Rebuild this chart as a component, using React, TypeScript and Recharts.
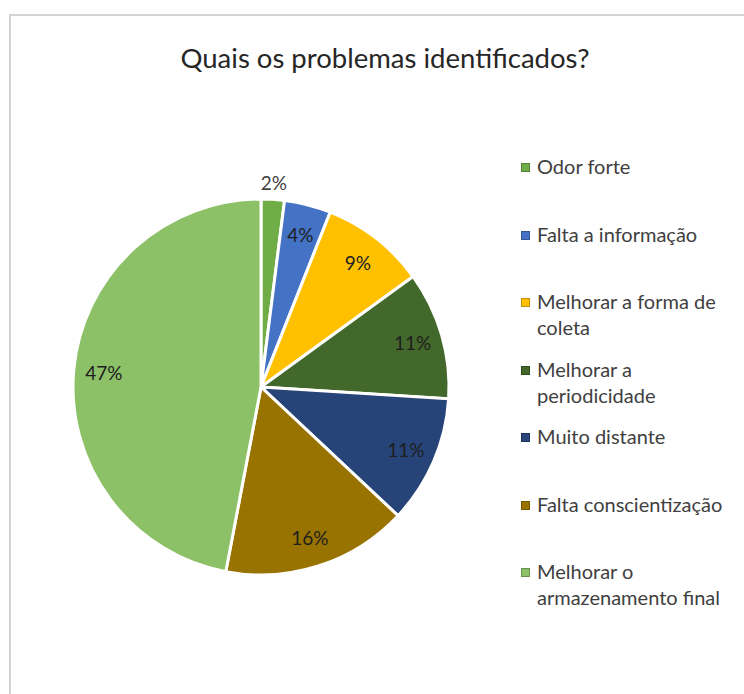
import React from 'react';
import { PieChart, Pie, Cell, Legend } from 'recharts';

const categories = [
  'Odor forte',
  'Falta a informação',
  'Melhorar a forma de coleta',
  'Melhorar a periodicidade',
  'Muito distante',
  'Falta conscientização',
  'Melhorar o armazenamento final',
];
const percents = [2, 4, 9, 11, 11, 16, 47];
const colors = ['#70AD47', '#4472C4', '#FFC000', '#43682B', '#264478', '#997300', '#8CC168'];

const data = categories.map((name, i) => ({ name, value: percents[i] }));

const FONT = 'Lato, "Open Sans", sans-serif';
const RAD = Math.PI / 180;

const renderLabel = (props: any) => {
  const { cx, cy, midAngle, outerRadius, value } = props;
  const r = value < 3 ? outerRadius + 17 : outerRadius * 0.84;
  const x = cx + r * Math.cos(-midAngle * RAD);
  const y = cy + r * Math.sin(-midAngle * RAD);
  return (
    <text x={x} y={y} fill={value < 3 ? '#404040' : '#1e1e1e'} fontSize={19} fontFamily={FONT} textAnchor="middle" dominantBaseline="central">
      {value}%
    </text>
  );
};

const renderLegend = (props: any) => {
  const items = [...(props.payload || [])].sort(
    (a: any, b: any) => categories.indexOf(a.value) - categories.indexOf(b.value)
  );
  return (
    <div style={{ fontFamily: FONT, fontSize: 20, color: '#404040', lineHeight: '26px' }}>
      {items.map((entry: any, i: number) => (
        <div key={i} style={{ display: 'flex', alignItems: 'flex-start', height: 67.5 }}>
          <div style={{ width: 7, height: 7, background: entry.color, border: '1px solid rgba(0,0,0,0.25)', marginTop: 10, marginRight: 7, flexShrink: 0 }} />
          <div style={{ width: 200 }}>{entry.value}</div>
        </div>
      ))}
    </div>
  );
};

export default function App() {
  return (
    <div style={{ position: 'fixed', left: 0, top: 0, width: 744, height: 694, overflow: 'hidden', background: '#fff' }}>
      <div style={{ position: 'absolute', left: 9, top: 14, width: 800, height: 800, borderLeft: '2px solid #d4d4d4', borderTop: '2px solid #d4d4d4' }} />
      <div style={{ position: 'absolute', left: 0, top: 41, width: 770, textAlign: 'center', fontFamily: FONT, fontSize: 27.5, color: '#262626' }}>
        Quais os problemas identificados?
      </div>
      <div style={{ position: 'absolute', left: 0, top: 0 }}>
        <PieChart width={744} height={694} margin={{ top: 0, right: 0, bottom: 0, left: 0 }}>
          <Pie
            data={data}
            dataKey="value"
            nameKey="name"
            cx={261}
            cy={387}
            outerRadius={188}
            startAngle={90}
            endAngle={-270}
            stroke="#fff"
            strokeWidth={3}
            label={renderLabel}
            labelLine={false}
            isAnimationActive={false}
          >
            {data.map((d, i) => (
              <Cell key={d.name} fill={colors[i]} />
            ))}
          </Pie>
          <Legend
            layout="vertical"
            align="right"
            verticalAlign="top"
            content={renderLegend}
            wrapperStyle={{ left: 521, top: 153, width: 222 }}
          />
        </PieChart>
      </div>
    </div>
  );
}
